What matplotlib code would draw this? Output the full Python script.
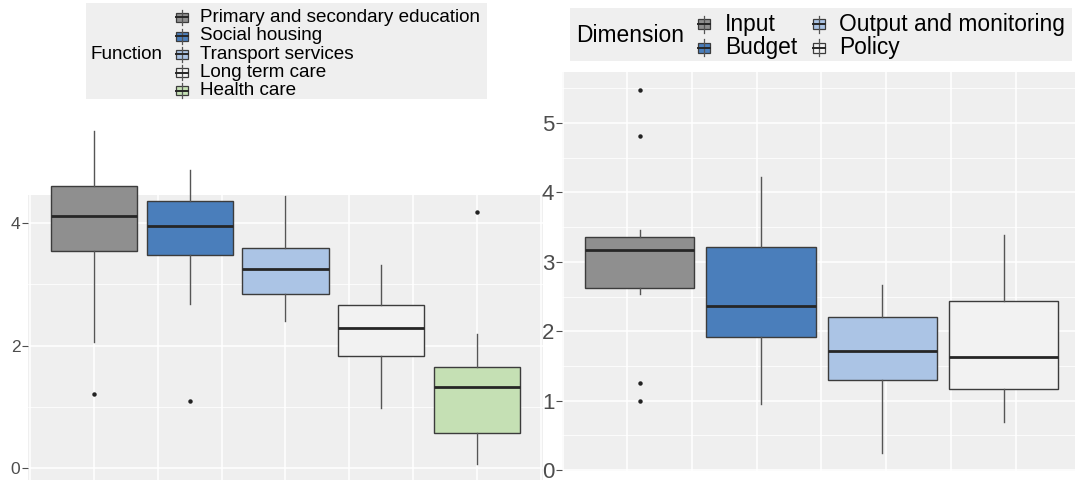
import matplotlib
matplotlib.use("Agg")
import matplotlib.pyplot as plt
from matplotlib.patches import Rectangle

plt.rcParams["font.family"] = ["Liberation Sans", "DejaVu Sans"]

# left panel: scores by function
functions = ["Primary and secondary education", "Social housing",
             "Transport services", "Long term care", "Health care"]
func_q1 = [3.55, 3.48, 2.85, 1.84, 0.57]
func_med = [4.11, 3.95, 3.25, 2.29, 1.33]
func_q3 = [4.61, 4.37, 3.59, 2.66, 1.65]
func_lo = [2.06, 2.68, 2.41, 0.99, 0.07]
func_hi = [5.51, 4.87, 4.45, 3.31, 2.20]
func_out = [[1.22], [1.10], [], [], [4.19]]
func_colors = ["#8f8f8f", "#4a7ebb", "#abc4e5", "#f2f2f2", "#c5e0b4"]

# right panel: scores by dimension
dimensions = ["Input", "Budget", "Output and monitoring", "Policy"]
dim_q1 = [2.63, 1.92, 1.29, 1.17]
dim_med = [3.17, 2.36, 1.71, 1.63]
dim_q3 = [3.36, 3.21, 2.21, 2.44]
dim_lo = [2.53, 0.95, 0.25, 0.69]
dim_hi = [3.46, 4.22, 2.66, 3.38]
dim_out = [[5.48, 4.81, 1.26, 1.00], [], [], []]
dim_colors = ["#8f8f8f", "#4a7ebb", "#abc4e5", "#f2f2f2"]

PANEL = "#efefef"
EDGE = "#3c3c3c"
W, H = 1075, 480


def draw_boxes(ax, q1, med, q3, lo, hi, out, colors):
    stats = [dict(q1=a, med=b, q3=c, whislo=d, whishi=e, fliers=f)
             for a, b, c, d, e, f in zip(q1, med, q3, lo, hi, out)]
    bp = ax.bxp(stats, positions=range(1, len(stats) + 1), widths=0.9,
                patch_artist=True, showcaps=False,
                boxprops=dict(edgecolor=EDGE, linewidth=1.0),
                medianprops=dict(color="#262626", linewidth=2.0),
                whiskerprops=dict(color="#555555", linewidth=1.0),
                flierprops=dict(marker="o", markersize=3.2,
                                markerfacecolor="#222222",
                                markeredgecolor="none"))
    for patch, c in zip(bp["boxes"], colors):
        patch.set_facecolor(c)
    for key in ("boxes", "medians", "whiskers", "fliers"):
        for art in bp[key]:
            art.set_clip_on(False)


def style_axes(ax, xgrid, ymajor, yminor, labelsize):
    ax.set_facecolor(PANEL)
    for s in ax.spines.values():
        s.set_visible(False)
    ax.set_yticks(ymajor)
    ax.set_yticks(yminor, minor=True)
    ax.set_xticks(xgrid)
    ax.set_xticklabels([])
    ax.tick_params(axis="x", length=0)
    ax.tick_params(axis="y", which="major", length=4, width=0.8,
                   color="#4d4d4d", labelcolor="#4d4d4d",
                   labelsize=labelsize, pad=1.5)
    ax.tick_params(axis="y", which="minor", length=0)
    ax.grid(True, which="major", color="white", linewidth=1.1)
    ax.grid(True, which="minor", axis="y", color="white", linewidth=0.55)
    ax.set_axisbelow(True)


fig = plt.figure(figsize=(W / 100, H / 100), dpi=100)

# left plot
ax1 = fig.add_axes([28 / W, 0, 515 / W, 285 / H])
draw_boxes(ax1, func_q1, func_med, func_q3, func_lo, func_hi, func_out, func_colors)
style_axes(ax1, [1 / 3 + 2 * k / 3 for k in range(9)], [0, 2, 4], [1, 3], 12.5)
ax1.set_xlim(0.31, 5.69)
ax1.set_ylim(-0.19, 4.46)

# right plot
ax2 = fig.add_axes([562 / W, (H - 470.5) / H, 513 / W, 398.8 / H])
draw_boxes(ax2, dim_q1, dim_med, dim_q3, dim_lo, dim_hi, dim_out, dim_colors)
style_axes(ax2, [0.364 + 0.5334 * k for k in range(9)], [0, 1, 2, 3, 4, 5],
           [0.5, 1.5, 2.5, 3.5, 4.5, 5.5], 16)
ax2.set_xlim(0.359, 4.588)
ax2.set_ylim(-0.007, 5.74)

# legends, drawn in pixel space on top
lg = fig.add_axes([0, 0, 1, 1])
lg.set_xlim(0, W)
lg.set_ylim(H, 0)
lg.axis("off")


def draw_key(xc, yc, w, h, stub, color):
    lg.plot([xc, xc], [yc - h / 2 - stub, yc + h / 2 + stub], color="#555555", lw=0.9)
    lg.add_patch(Rectangle((xc - w / 2, yc - h / 2), w, h, facecolor=color,
                           edgecolor=EDGE, lw=0.9))
    lg.plot([xc - w / 2, xc + w / 2], [yc, yc], color="#262626", lw=1.4)


lg.add_patch(Rectangle((86, 3), 400.5, 95.7, facecolor=PANEL, edgecolor="none"))
lg.text(91, 54.3, "Function", fontsize=13.6, va="center", ha="left", color="black")
rows = [17.3, 36, 54.3, 72.7, 90.7]
for name, c, y in zip(functions, func_colors, rows):
    draw_key(182, y, 12, 9, 3, c)
    lg.text(200, y, name, fontsize=13.6, va="center", ha="left", color="black")

lg.add_patch(Rectangle((570, 7.7), 502, 53.3, facecolor=PANEL, edgecolor="none"))
lg.text(576, 36, "Dimension", fontsize=16.4, va="center", ha="left", color="black")
spots = [(704, 725, 24.3), (704, 725, 47.7), (818.5, 838.7, 24.3), (818.5, 838.7, 47.7)]
for name, c, (kx, tx, y) in zip(dimensions, dim_colors, spots):
    draw_key(kx, y, 12, 10, 3.5, c)
    lg.text(tx, y, name, fontsize=16.4, va="center", ha="left", color="black")

fig.savefig("out.png", dpi=100)
